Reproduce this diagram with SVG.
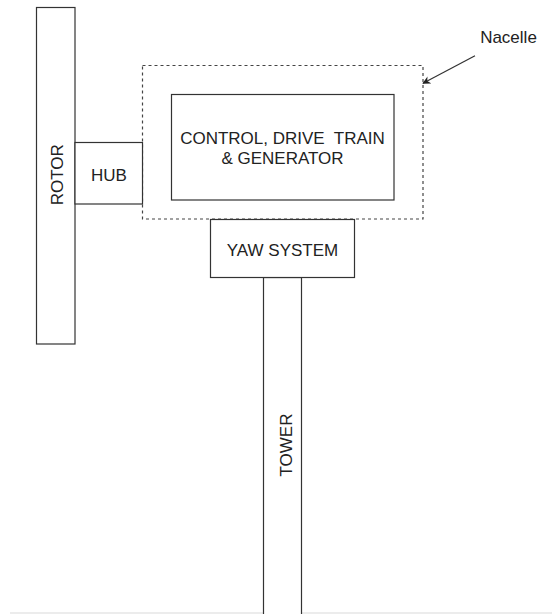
<svg xmlns="http://www.w3.org/2000/svg" width="552" height="614" viewBox="0 0 552 614">
<style>
.box{fill:#fff;stroke:#333;stroke-width:1.2}
.dash{fill:none;stroke:#444;stroke-width:1.2;stroke-dasharray:3 3}
.lbl{font-family:"Liberation Sans",Arial,Helvetica,sans-serif;font-size:17px;fill:#222;text-anchor:middle}
.conn{stroke:#333;stroke-width:1.2;fill:none}
</style>
<defs>
<marker id="arr" viewBox="0 0 10 10" refX="9" refY="5" markerWidth="8" markerHeight="8" orient="auto" markerUnits="userSpaceOnUse">
<path d="M0,0 L10,5 L0,10 L3,5 Z" fill="#222"/>
</marker>
</defs>
<rect width="552" height="614" fill="#fff"/>
<line x1="10" y1="613" x2="552" y2="613" stroke="#e6e6e6" stroke-width="1.5"/>
<g id="tower">
<rect class="box" x="263.5" y="277.5" width="38" height="345"/>
<text class="lbl" transform="translate(291.5,445) rotate(-90)">TOWER</text>
</g>
<g id="nacelle">
<rect class="dash" x="142.5" y="65.5" width="280.5" height="153.5"/>
</g>
<g id="rotor">
<rect class="box" x="36.5" y="7.5" width="38.5" height="336.5"/>
<text class="lbl" transform="translate(63.3,174.7) rotate(-90)">ROTOR</text>
</g>
<g id="hub">
<rect class="box" x="75" y="142.5" width="67.5" height="61.5"/>
<text class="lbl" x="109" y="181">HUB</text>
</g>
<g id="control">
<rect class="box" x="171.5" y="94.5" width="222.5" height="105.5"/>
<text class="lbl" x="282.5" y="144.3" xml:space="preserve">CONTROL, DRIVE  TRAIN</text>
<text class="lbl" x="282.5" y="164.3">&amp; GENERATOR</text>
</g>
<g id="yaw">
<rect class="box" x="210.5" y="219.5" width="144" height="58"/>
<text class="lbl" x="282.5" y="255.7">YAW SYSTEM</text>
</g>
<g id="nacelle-label">
<text class="lbl" x="508.5" y="43.3">Nacelle</text>
</g>
<g id="connectors">
<line class="conn" x1="475" y1="55.7" x2="423" y2="83.3" marker-end="url(#arr)"/>
</g>
</svg>
